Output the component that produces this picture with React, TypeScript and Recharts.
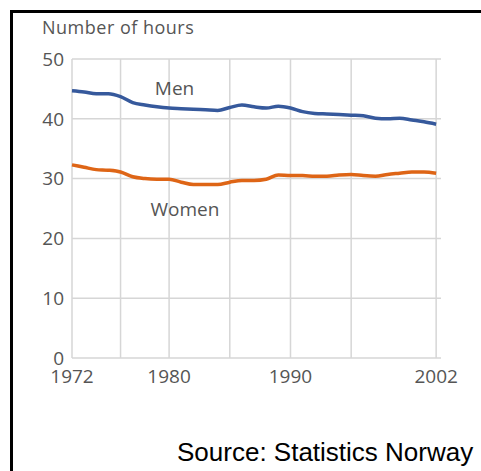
import { LineChart, Line, XAxis, YAxis, CartesianGrid, ReferenceLine, ReferenceDot } from 'recharts'

// weekly working hours
const years = [
  1972, 1973, 1974, 1975, 1976, 1977, 1978, 1979, 1980, 1981, 1982,
  1983, 1984, 1985, 1986, 1987, 1988, 1989, 1990, 1991, 1992,
  1993, 1994, 1995, 1996, 1997, 1998, 1999, 2000, 2001, 2002,
]
const men = [
  44.7, 44.5, 44.2, 44.2, 43.7, 42.7, 42.3, 42.0, 41.8, 41.7, 41.6,
  41.5, 41.4, 41.9, 42.3, 42.0, 41.8, 42.1, 41.8, 41.2, 40.9,
  40.8, 40.7, 40.6, 40.5, 40.1, 40.0, 40.1, 39.8, 39.5, 39.1,
]
const women = [
  32.3, 31.9, 31.5, 31.4, 31.1, 30.3, 30.0, 29.9, 29.9, 29.4, 29.0,
  29.0, 29.0, 29.4, 29.7, 29.7, 29.9, 30.6, 30.5, 30.5, 30.4,
  30.4, 30.6, 30.7, 30.5, 30.4, 30.7, 30.9, 31.1, 31.1, 30.9,
]
const xTicks = [1972, 1980, 1990, 2002]
const yTicks = [0, 10, 20, 30, 40, 50]
const gridYears = [1972, 1976, 1980, 1985, 1990, 1995, 2002]
const menLabel = { year: 1980.45, value: 45.1 }
const womenLabel = { year: 1981.3, value: 24.8 }

const data = years.map((year, i) => ({ year, men: men[i], women: women[i] }))

const tickStyle = { fill: '#555555', fontSize: 19, fontFamily: 'Open Sans' }
const seriesLabel = { fill: '#555555', fontSize: 19, fontFamily: 'Open Sans' }

export default function App() {
  return (
    <div style={{ position: 'absolute', left: 0, top: 0, width: 481, height: 471, background: '#fff', overflow: 'hidden' }}>
      <div style={{ position: 'absolute', left: 10, top: 10, width: 471, height: 461, borderLeft: '3px solid #000', borderTop: '3px solid #000', boxSizing: 'border-box' }} />
      <div style={{ position: 'absolute', left: 42, top: 18, fontFamily: 'Open Sans', fontSize: 18, lineHeight: '18px', letterSpacing: 0.5, color: '#555555', whiteSpace: 'nowrap' }}>
        Number of hours
      </div>
      <LineChart width={481} height={471} data={data} margin={{ top: 59, right: 40, bottom: 83, left: 32 }} style={{ position: 'absolute', left: 0, top: 0 }}>
        <CartesianGrid vertical={false} stroke="#d6d6d6" strokeWidth={1.5} />
        {gridYears.map(y => (
          <ReferenceLine key={y} x={y} stroke="#d6d6d6" strokeWidth={1.5} />
        ))}
        <XAxis dataKey="year" type="number" domain={[1972, 2002.4]} ticks={xTicks} axisLine={false} tickLine={false} tick={tickStyle} tickMargin={6} height={30} interval={0} />
        <YAxis type="number" domain={[0, 50]} ticks={yTicks} axisLine={false} tickLine={false} tick={tickStyle} width={40} interval={0} />
        <Line type="monotone" dataKey="men" stroke="#36599c" strokeWidth={3.5} dot={false} isAnimationActive={false} />
        <Line type="monotone" dataKey="women" stroke="#de6516" strokeWidth={3.5} dot={false} isAnimationActive={false} />
        <ReferenceDot x={menLabel.year} y={menLabel.value} r={0} fill="none" stroke="none" label={{ value: 'Men', position: 'center', ...seriesLabel }} />
        <ReferenceDot x={womenLabel.year} y={womenLabel.value} r={0} fill="none" stroke="none" label={{ value: 'Women', position: 'center', ...seriesLabel }} />
      </LineChart>
      <div style={{ position: 'absolute', left: 177, top: 439, fontFamily: 'Liberation Sans, Arial', fontSize: 26, lineHeight: '26px', color: '#000', whiteSpace: 'nowrap' }}>
        Source: Statistics Norway
      </div>
    </div>
  )
}
